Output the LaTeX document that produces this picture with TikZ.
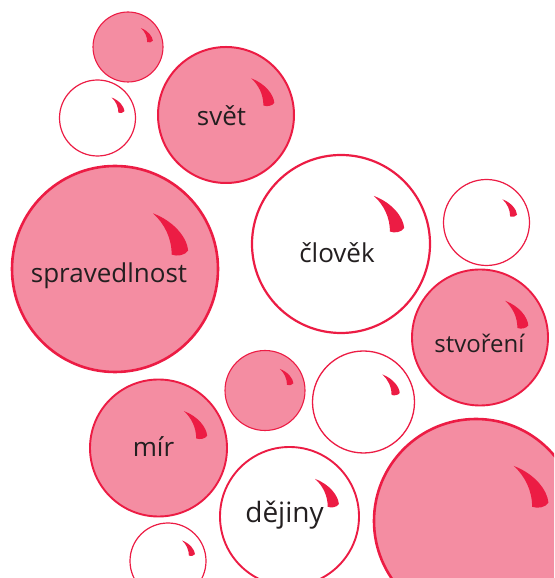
\documentclass[tikz,border=0pt]{standalone}
\usepackage{fontspec}
\setmainfont{Open Sans}
\definecolor{bubred}{RGB}{236,28,68}
\definecolor{bubpink}{RGB}{244,141,162}
\definecolor{ink}{RGB}{35,31,32}
\tikzset{
 horn/.pic={\fill[bubred] (0.37,0.54) .. controls (0.58,0.46) and (0.70,0.30) .. (0.71,0.18) .. controls (0.68,0.13) and (0.60,0.12) .. (0.55,0.14) .. controls (0.55,0.30) and (0.48,0.44) .. (0.37,0.54) -- cycle;},
 pinkb/.style={circle, draw=bubred, fill=bubpink, inner sep=0pt, outer sep=0pt},
 whiteb/.style={circle, draw=bubred, fill=white, inner sep=0pt, outer sep=0pt},
 word/.style={anchor=base, text=ink, font=\fontsize{26}{30}\selectfont, inner sep=0pt},
}
\begin{document}
\begin{tikzpicture}[x=1pt,y=1pt]
\useasboundingbox (0,0) rectangle (554,578);
\clip (0,0) rectangle (554,578);
% bubbles
\node[pinkb, minimum size=70pt, line width=1.1pt] (b1) at (128,531) {};
\node[pinkb, minimum size=136pt, line width=2pt] (b2) at (226,463) {};
\node[whiteb, minimum size=76pt, line width=1.2pt] (b3) at (97.5,460) {};
\node[pinkb, minimum size=206pt, line width=2.6pt] (b4) at (115,309) {};
\node[whiteb, minimum size=178pt, line width=2.2pt] (b5) at (341,334) {};
\node[whiteb, minimum size=86pt, line width=1.2pt] (b6) at (486.5,355.5) {};
\node[pinkb, minimum size=136pt, line width=1.9pt] (b7) at (480,240.5) {};
\node[pinkb, minimum size=80pt, line width=1.1pt] (b8) at (265,187.5) {};
\node[whiteb, minimum size=102pt, line width=1.3pt] (b9) at (363.5,176) {};
\node[pinkb, minimum size=137pt, line width=1.9pt] (b10) at (158.5,130) {};
\node[whiteb, minimum size=139pt, line width=1.9pt] (b11) at (289.5,61.5) {};
\node[pinkb, minimum size=204pt, line width=2.6pt] (b12) at (476,57) {};
\node[whiteb, minimum size=76pt, line width=1.2pt] (b13) at (168,17) {};
% highlights
\pic[scale=35] at (b1.center) {horn};
\pic[scale=68] at (b2.center) {horn};
\pic[scale=38] at (b3.center) {horn};
\pic[scale=103] at (b4.center) {horn};
\pic[scale=89] at (b5.center) {horn};
\pic[scale=43] at (b6.center) {horn};
\pic[scale=68] at (b7.center) {horn};
\pic[scale=40] at (b8.center) {horn};
\pic[scale=51] at (b9.center) {horn};
\pic[scale=68.5] at (b10.center) {horn};
\pic[scale=69.5] at (b11.center) {horn};
\pic[scale=102] at (b12.center) {horn};
\pic[scale=38] at (b13.center) {horn};
% words
\node[word] (t2) at (221.5,452) {svět};
\node[word] (t4) at (109,295) {spravedlnost};
\node[word] (t5) at (337,315) {člověk};
\node[word, font=\fontsize{24}{28}\selectfont] (t7) at (479.5,225) {stvoření};
\node[word] (t10) at (153.5,121) {mír};
\node[word, font=\fontsize{28}{32}\selectfont] (t11) at (284.5,55) {dějiny};
\end{tikzpicture}
\end{document}
